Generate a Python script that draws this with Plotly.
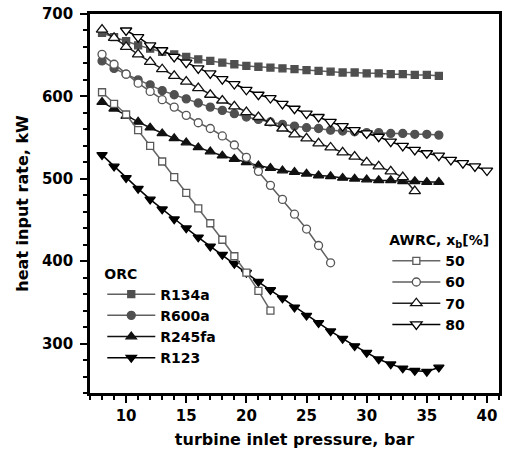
import plotly.graph_objects as go

# ---- data ----
p_orc = list(range(8, 37))
r134a = [677, 672, 667, 662, 658, 654, 651, 648, 645, 643, 641, 639, 637, 636, 635,
         634, 633, 632, 631, 630, 629, 629, 628, 628, 627, 627, 626, 626, 625]
r600a = [643, 634, 627, 620, 614, 607, 602, 597, 592, 587, 583, 579, 575, 572, 569,
         566, 564, 562, 561, 559, 558, 557, 556, 556, 555, 555, 554, 554, 553]
r245fa = [593, 585, 576, 569, 562, 555, 549, 544, 538, 533, 528, 524, 520, 516, 513,
          510, 508, 506, 504, 503, 501, 500, 499, 498, 498, 497, 497, 496, 496]
r123 = [529, 515, 501, 488, 475, 463, 451, 440, 429, 418, 408, 397, 386, 375, 365,
        355, 344, 334, 325, 315, 306, 297, 289, 281, 275, 270, 267, 266, 271]

p_50 = list(range(8, 23))
awrc50 = [605, 591, 578, 559, 540, 521, 502, 483, 464, 446, 426, 406, 386, 364, 340]
p_60 = list(range(8, 28))
awrc60 = [651, 639, 627, 616, 606, 596, 587, 577, 568, 561, 552, 541, 526, 509, 492,
          475, 457, 439, 419, 398]
p_70 = list(range(8, 35))
awrc70 = [681, 671, 660, 651, 642, 633, 625, 618, 610, 602, 595, 588, 581, 575, 568,
          561, 554, 549, 543, 538, 532, 527, 520, 515, 509, 502, 485]
p_80 = list(range(10, 41))
awrc80 = [680, 672, 662, 656, 648, 641, 634, 628, 621, 615, 608, 602, 598, 591, 585,
          579, 575, 569, 564, 559, 555, 551, 545, 540, 535, 531, 528, 523, 519, 515, 510]

x_ticks = [10, 15, 20, 25, 30, 35, 40]
y_ticks = [300, 400, 500, 600, 700]

FONT = "DejaVu Sans"

fig = go.Figure()

def add(x, y, name, symbol, size, fill, edge, linecolor, legend):
    fig.add_trace(go.Scatter(
        x=x, y=y, name=name, mode="lines+markers", legend=legend,
        line=dict(color=linecolor, width=1.5),
        marker=dict(symbol=symbol, size=size, color=fill,
                    line=dict(color=edge, width=1.3)),
    ))

add(p_orc, r134a, "R134a", "square", 7, "#4f4f4f", "#4f4f4f", "#606060", "legend")
add(p_orc, r600a, "R600a", "circle", 8, "#505050", "#505050", "#606060", "legend")
add(p_orc, r245fa, "R245fa", "triangle-up", 9, "#111111", "#111111", "#111111", "legend")
add(p_orc, r123, "R123", "triangle-down", 9, "#000000", "#000000", "#000000", "legend")

add(p_50, awrc50, "50", "square", 7, "white", "#5a5a5a", "#666666", "legend2")
add(p_60, awrc60, "60", "circle", 8, "white", "#555555", "#5f5f5f", "legend2")
add(p_70, awrc70, "70", "triangle-up", 10, "white", "#111111", "#222222", "legend2")
add(p_80, awrc80, "80", "triangle-down", 10, "white", "#000000", "#000000", "legend2")

axis_common = dict(
    showline=True, linewidth=2.5, linecolor="black", mirror=True,
    ticks="outside", ticklen=7, tickwidth=2, tickcolor="black",
    showgrid=False, zeroline=False,
    tickfont=dict(family=FONT, size=15, color="black", weight="bold"),
)

fig.update_xaxes(
    range=[7, 41], tickvals=x_ticks,
    minor=dict(dtick=1, tick0=0, ticks="outside", ticklen=4, tickwidth=2, tickcolor="black"),
    title=dict(text="turbine inlet pressure, bar", standoff=11,
               font=dict(family=FONT, size=16, color="black", weight="bold")),
    **axis_common,
)
fig.update_yaxes(
    range=[240, 700], tickvals=y_ticks, ticklabelstandoff=4,
    minor=dict(dtick=20, tick0=0, ticks="outside", ticklen=4, tickwidth=2, tickcolor="black"),
    title=dict(text="heat input rate, kW", standoff=10,
               font=dict(family=FONT, size=16, color="black", weight="bold")),
    **axis_common,
)

legend_font = dict(family=FONT, size=14, color="black", weight="bold")
fig.update_layout(
    width=507, height=457,
    margin=dict(l=90, r=5, t=14, b=64),
    plot_bgcolor="white", paper_bgcolor="white",
    font=dict(family=FONT, color="black"),
    legend=dict(
        title=dict(text="ORC", font=legend_font),
        font=legend_font, x=0.03, y=0.35, xanchor="left", yanchor="top",
        bgcolor="rgba(0,0,0,0)", itemwidth=48, tracegroupgap=0,
    ),
    legend2=dict(
        title=dict(text="AWRC, x<sub>b</sub>[%]", font=legend_font),
        font=legend_font, x=0.727, y=0.438, xanchor="left", yanchor="top",
        bgcolor="rgba(0,0,0,0)", itemwidth=48, tracegroupgap=0,
    ),
)

fig.write_html("out.html")
